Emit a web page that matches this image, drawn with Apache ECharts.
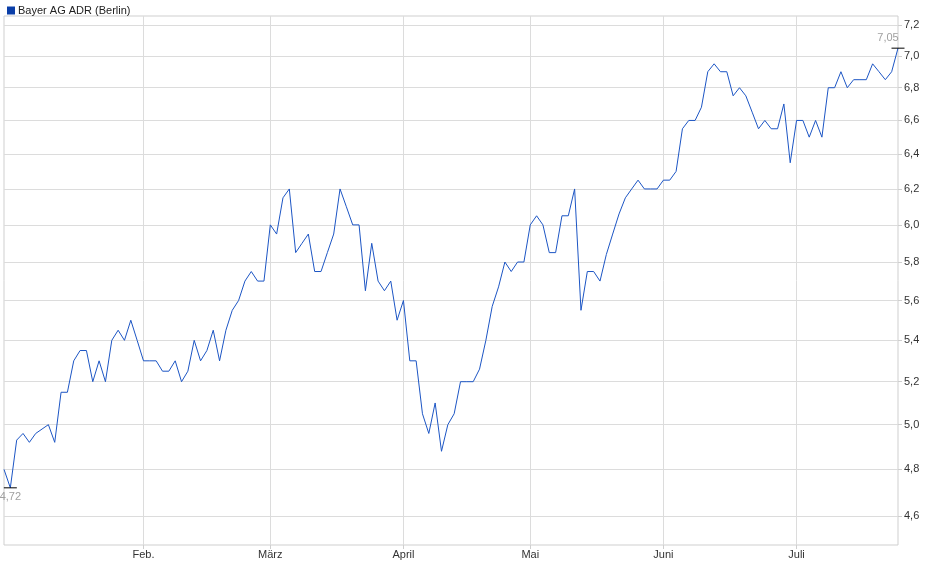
<!DOCTYPE html>
<html>
<head>
<meta charset="utf-8">
<script src="https://cdn.jsdelivr.net/npm/echarts@6/dist/echarts.min.js"></script>
<style>
  html, body { margin: 0; padding: 0; background: #fff; }
  #chart { width: 940px; height: 579px; }
</style>
</head>
<body>
<div id="chart"></div>
<script>
const seriesName = 'Bayer AG ADR (Berlin)';

// Schlusskurse, ein Wert je Handelstag
const prices = [
  4.8, 4.72, 4.93, 4.96, 4.92, 4.96, 4.98, 5.0, 4.92, 5.15, 5.15, 5.3, 5.35, 5.35, 5.2, 5.3, 5.2, 5.4, 5.45, 5.4,
  5.5, 5.4, 5.3, 5.3, 5.3, 5.25, 5.25, 5.3, 5.2, 5.25, 5.4, 5.3, 5.35, 5.45, 5.3, 5.45, 5.55, 5.6, 5.7, 5.75,
  5.7, 5.7, 6.0, 5.95, 6.15, 6.2, 5.85, 5.9, 5.95, 5.75, 5.75, 5.85, 5.95, 6.2, 6.1, 6.0, 6.0, 5.65, 5.9, 5.7,
  5.65, 5.7, 5.5, 5.6, 5.3, 5.3, 5.05, 4.96, 5.1, 4.88, 5.0, 5.05, 5.2, 5.2, 5.2, 5.26, 5.4, 5.57, 5.67, 5.8,
  5.75, 5.8, 5.8, 6.0, 6.05, 6.0, 5.85, 5.85, 6.05, 6.05, 6.2, 5.55, 5.75, 5.75, 5.7, 5.84, 5.95, 6.06, 6.15, 6.2,
  6.25, 6.2, 6.2, 6.2, 6.25, 6.25, 6.3, 6.55, 6.6, 6.6, 6.68, 6.9, 6.95, 6.9, 6.9, 6.75, 6.8, 6.75, 6.65, 6.55,
  6.6, 6.55, 6.55, 6.7, 6.35, 6.6, 6.6, 6.5, 6.6, 6.5, 6.8, 6.8, 6.9, 6.8, 6.85, 6.85, 6.85, 6.95, 6.9, 6.85,
  6.9, 7.05
];

// Index des ersten Handelstags je Monat
const monthStarts = [22, 42, 63, 83, 104, 125];
const monthNames = ['Feb.', 'März', 'April', 'Mai', 'Juni', 'Juli'];

const yTicks = [4.6, 4.8, 5.0, 5.2, 5.4, 5.6, 5.8, 6.0, 6.2, 6.4, 6.6, 6.8, 7.0, 7.2];

const days = prices.map((_, i) => String(i));
const monthLabel = {};
monthStarts.forEach((idx, k) => { monthLabel[idx] = monthNames[k]; });
const isMonthStart = (i) => monthLabel[i] !== undefined;
const fmt = (v, d) => v.toFixed(d).replace('.', ',');

const chart = echarts.init(document.getElementById('chart'));
chart.setOption({
  animation: false,
  textStyle: { fontFamily: 'Arial, "Liberation Sans", sans-serif' },
  legend: {
    left: 2,
    top: 0,
    itemWidth: 8,
    itemHeight: 8,
    itemGap: 4,
    icon: 'rect',
    textStyle: { fontSize: 11, color: '#222', padding: [0, 0, 0, -2] },
    data: [seriesName],
  },
  grid: {
    left: 4,
    right: 42,
    top: 16,
    bottom: 34,
    show: true,
    borderColor: '#cfcfcf',
    borderWidth: 1,
  },
  xAxis: {
    type: 'category',
    data: days,
    boundaryGap: false,
    axisLine: { show: false },
    axisTick: { show: true, interval: (i) => isMonthStart(i), length: 4, lineStyle: { color: '#cfcfcf' } },
    axisLabel: {
      interval: (i) => isMonthStart(i),
      formatter: (v, i) => monthLabel[i] || '',
      fontSize: 11,
      color: '#333',
      margin: 4,
    },
    splitLine: { show: true, interval: (i) => isMonthStart(i), lineStyle: { color: '#dcdcdc' } },
  },
  yAxis: {
    type: 'log',
    logBase: 10,
    position: 'right',
    min: 4.48,
    max: 7.26,
    axisLine: { show: false },
    axisTick: { show: true, customValues: yTicks, length: 4, lineStyle: { color: '#cfcfcf' } },
    axisLabel: {
      customValues: yTicks,
      formatter: (v) => fmt(v, 1),
      fontSize: 11,
      color: '#333',
      margin: 6,
    },
    splitLine: { show: true, lineStyle: { color: '#dcdcdc' } },
  },
  series: [
    {
      name: seriesName,
      type: 'line',
      data: prices,
      showSymbol: false,
      color: '#0a3ea8',
      lineStyle: { color: '#1c55c4', width: 1 },
      markPoint: {
        symbol: 'rect',
        symbolSize: [13, 1],
        itemStyle: { color: '#000' },
        data: [
          { type: 'min', label: { position: 'bottom', distance: 3 } },
          { type: 'max', label: { position: 'top', distance: 4, offset: [-10, 0] } },
        ],
        label: {
          formatter: (p) => fmt(p.value, 2),
          color: '#a0a0a0',
          fontSize: 11,
        },
      },
    },
  ],
});
</script>
</body>
</html>
